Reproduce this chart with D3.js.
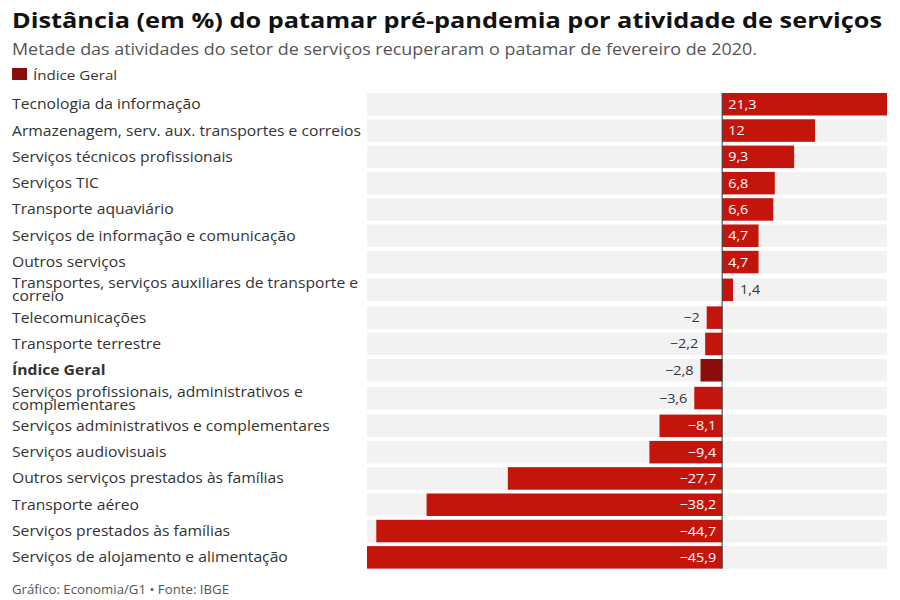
<!DOCTYPE html>
<html>
<head>
<meta charset="utf-8">
<script src="https://cdn.jsdelivr.net/npm/d3@7"></script>
<style>
  body { margin: 0; background: #fff; }
  svg text { font-family: "Open Sans", sans-serif; }
</style>
</head>
<body>
<div id="chart"></div>
<script>
var categories = [
    'Tecnologia da informação',
    'Armazenagem, serv. aux. transportes e correios',
    'Serviços técnicos profissionais',
    'Serviços TIC',
    'Transporte aquaviário',
    'Serviços de informação e comunicação',
    'Outros serviços',
    'Transportes, serviços auxiliares de transporte e correio',
    'Telecomunicações',
    'Transporte terrestre',
    'Índice Geral',
    'Serviços profissionais, administrativos e complementares',
    'Serviços administrativos e complementares',
    'Serviços audiovisuais',
    'Outros serviços prestados às famílias',
    'Transporte aéreo',
    'Serviços prestados às famílias',
    'Serviços de alojamento e alimentação'
];
var values = [21.3, 12, 9.3, 6.8, 6.6, 4.7, 4.7, 1.4, -2, -2.2, -2.8, -3.6,
    -8.1, -9.4, -27.7, -38.2, -44.7, -45.9];
var highlight = 'Índice Geral';

var title = 'Distância (em %) do patamar pré-pandemia por atividade de serviços';
var subtitle = 'Metade das atividades do setor de serviços recuperaram o patamar de fevereiro de 2020.';
var footer = 'Gráfico: Economia/G1 • Fonte: IBGE';

(function() {
    'use strict';
    var width = 900, height = 600, svg, x, fmt, rows, y0, i, barH, gap,
        labelW, lineH, red, dark, wide;

    red = '#c4150c';
    dark = '#8a0f0a';
    barH = 22.5;
    gap = 3.8;
    labelW = 356;
    lineH = 13;
    wide = 1.12;   // the reference text is drawn a little wider than Open Sans

    // widen a text by factor k (keeps its height)
    function stretch(t, k) {
        t.each(function() {
            var len = this.getComputedTextLength();
            d3.select(this)
                .attr('textLength', len * k)
                .attr('lengthAdjust', 'spacingAndGlyphs');
        });
        return t;
    }

    svg = d3.select('#chart').append('svg')
        .attr('width', width)
        .attr('height', height);

    svg.append('text')
        .attr('x', 12).attr('y', 28)
        .attr('font-size', 20.5).attr('font-weight', 700)
        .attr('fill', '#111')
        .attr('textLength', 870)
        .attr('lengthAdjust', 'spacingAndGlyphs')
        .text(title);
    svg.append('text')
        .attr('x', 12).attr('y', 55)
        .attr('font-size', 16.2)
        .attr('fill', '#555')
        .attr('textLength', 745)
        .attr('lengthAdjust', 'spacingAndGlyphs')
        .text(subtitle);

    // Legend
    svg.append('rect')
        .attr('x', 12).attr('y', 68)
        .attr('width', 15).attr('height', 12)
        .attr('fill', dark);
    stretch(svg.append('text')
        .attr('x', 33).attr('y', 80)
        .attr('font-size', 13.5)
        .attr('fill', '#333')
        .text(highlight), wide);

    x = d3.scaleLinear()
        .domain([d3.min(values), d3.max(values)])
        .range([367, 887]);

    fmt = function(v) {
        return d3.format('~g')(Math.abs(v)).replace('.', ',');
    };

    // wrap labels: measure with a hidden text
    var probe = svg.append('text').attr('font-size', 14).attr('visibility', 'hidden');
    function wrap(label) {
        var words = label.split(' '), lines = [], cur = '';
        words.forEach(function(w) {
            var test = cur ? cur + ' ' + w : w;
            probe.text(test);
            if (probe.node().getComputedTextLength() * wide > labelW && cur) {
                lines.push(cur);
                cur = w;
            } else {
                cur = test;
            }
        });
        lines.push(cur);
        return lines;
    }

    rows = [];
    y0 = 93;
    for (i = 0; i < categories.length; i++) {
        var lines = wrap(categories[i]);
        var extra = lines.length > 1 ? 1.5 : 0;
        y0 += extra;
        rows.push({name: categories[i], value: values[i], lines: lines, y: y0});
        y0 += barH + gap + extra;
    }
    probe.remove();

    var g = svg.selectAll('g.row')
        .data(rows)
        .enter().append('g')
        .attr('class', 'row')
        .attr('transform', function(d) { return 'translate(0,' + d.y + ')'; });

    g.append('rect')
        .attr('x', x.range()[0])
        .attr('width', x.range()[1] - x.range()[0])
        .attr('height', barH)
        .attr('fill', '#f3f2f2');

    g.append('rect')
        .attr('x', function(d) { return x(Math.min(0, d.value)); })
        .attr('width', function(d) { return Math.abs(x(d.value) - x(0)); })
        .attr('height', barH)
        .attr('fill', function(d) { return d.name === highlight ? dark : red; });

    g.each(function(d) {
        var row = d3.select(this), n = d.lines.length;
        d.lines.forEach(function(line, k) {
            stretch(row.append('text')
                .attr('x', 12)
                .attr('y', barH / 2 + (k - (n - 1) / 2) * lineH + 5)
                .attr('font-size', 14)
                .attr('font-weight', d.name === highlight ? 700 : 400)
                .attr('fill', '#333')
                .text(line), wide);
        });
    });

    g.append('text')
        .attr('font-size', 12.5)
        .attr('y', barH / 2 + 4.5)
        .each(function(d) {
            var t = d3.select(this), w = Math.abs(x(d.value) - x(0)), label, len, inside;
            label = (d.value < 0 ? '\u2212' : '') + fmt(d.value);
            t.text(label);
            len = this.getComputedTextLength() * 1.15;
            t.attr('textLength', len).attr('lengthAdjust', 'spacingAndGlyphs');
            inside = w > len + 12;
            if (d.value >= 0) {
                t.attr('x', inside ? x(0) + 6 : x(d.value) + 7)
                    .attr('text-anchor', 'start');
            } else {
                t.attr('x', inside ? x(0) - 6 : x(d.value) - 7)
                    .attr('text-anchor', 'end');
            }
            t.attr('fill', inside ? '#fff' : '#333');
        });

    // Zero line
    svg.append('line')
        .attr('x1', x(0)).attr('x2', x(0))
        .attr('y1', rows[0].y)
        .attr('y2', rows[rows.length - 1].y + barH)
        .attr('stroke', '#333')
        .attr('stroke-width', 1);

    svg.append('text')
        .attr('x', 12).attr('y', 594)
        .attr('font-size', 12)
        .attr('fill', '#555')
        .attr('textLength', 217)
        .attr('lengthAdjust', 'spacingAndGlyphs')
        .text(footer);
}());
</script>
</body>
</html>
